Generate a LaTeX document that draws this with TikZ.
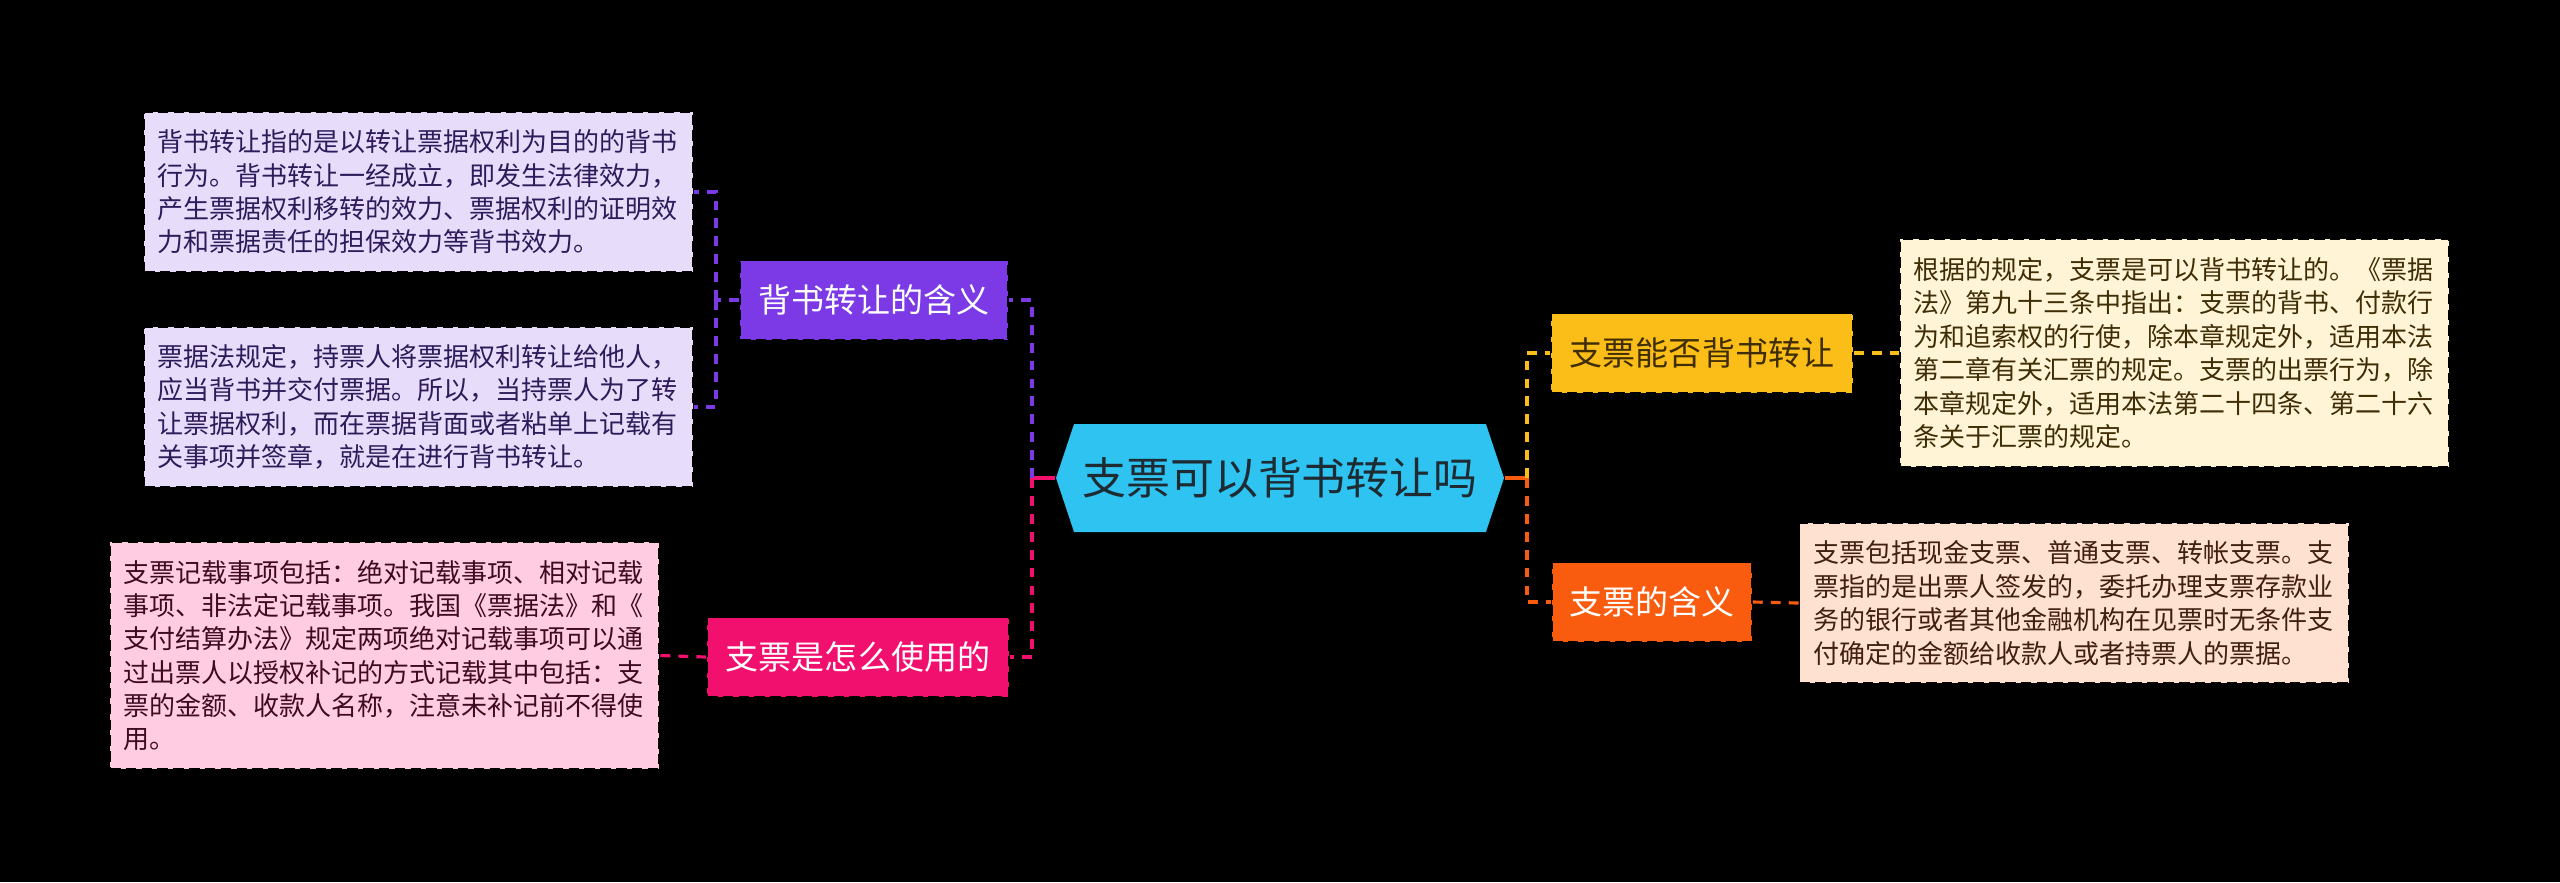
\documentclass[tikz,border=0pt]{standalone}
\usepackage{fontspec}
\setmainfont{Noto Sans CJK SC}
\usetikzlibrary{shapes.symbols}
\definecolor{mRoot}{HTML}{2EC3F1}
\definecolor{mRootTxt}{HTML}{1E2B33}
\definecolor{mViolet}{HTML}{7B3AE6}
\definecolor{mVioletL}{HTML}{E7DCFA}
\definecolor{mVioletT}{HTML}{2D1B5A}
\definecolor{mPink}{HTML}{F2106F}
\definecolor{mPinkL}{HTML}{FFCCE1}
\definecolor{mPinkT}{HTML}{3D0A22}
\definecolor{mAmber}{HTML}{FBBD17}
\definecolor{mAmberL}{HTML}{FFF4D5}
\definecolor{mAmberT}{HTML}{3F2D06}
\definecolor{mOrange}{HTML}{F95B0F}
\definecolor{mOrangeL}{HTML}{FFE1D2}
\definecolor{mOrangeT}{HTML}{40200F}

\begin{document}
\begin{tikzpicture}[
  branch/.style={draw=black, dash pattern=on 3pt off 1.5pt, line width=0.5pt,
    minimum height=0.79cm, inner sep=0pt, font=\fontsize{9.4}{11}\selectfont},
  leaf/.style={draw=black, dash pattern=on 3pt off 1.5pt, line width=0.5pt,
    text width=5.22cm, align=left, inner xsep=0.135cm, inner ysep=0pt,
    font=\fontsize{7.4}{9.5}\selectfont},
  link/.style={dash pattern=on 2.8pt off 2.3pt, line width=0.9pt}]
  \useasboundingbox (0,0) rectangle (25.6,-8.82);
  \fill[black] (0,0) rectangle (25.6,-8.82);

  % centre
  \node[signal, signal to=west and east, signal pointer angle=143, fill=mRoot,
    text=mRootTxt, minimum width=4.48cm, minimum height=1.08cm, inner sep=0pt,
    font=\fontsize{12.5}{14}\selectfont] (root) at (12.80,-4.78) {支票可以背书转让吗};

  % branches
  \node[branch, fill=mViolet, text=white, minimum width=2.68cm] (mean) at (8.74,-3.00) {背书转让的含义};
  \node[branch, fill=mPink, text=white, minimum width=3.02cm] (use) at (8.58,-6.57) {支票是怎么使用的};
  \node[branch, fill=mAmber, text=mAmberT, minimum width=3.02cm] (can) at (17.02,-3.53) {支票能否背书转让};
  \node[branch, fill=mOrange, text=white, minimum width=2.00cm] (cheque) at (16.52,-6.02) {支票的含义};

  % leaves
  \node[leaf, fill=mVioletL, text=mVioletT, minimum height=1.60cm] (meanA) at (4.185,-1.92)
    {背书转让指的是以转让票据权利为目的的背书\\行为。背书转让一经成立，即发生法律效力，\\产生票据权利移转的效力、票据权利的证明效\\力和票据责任的担保效力等背书效力。};
  \node[leaf, fill=mVioletL, text=mVioletT, minimum height=1.60cm] (meanB) at (4.185,-4.07)
    {票据法规定，持票人将票据权利转让给他人，\\应当背书并交付票据。所以，当持票人为了转\\让票据权利，而在票据背面或者粘单上记载有\\关事项并签章，就是在进行背书转让。};
  \node[leaf, fill=mPinkL, text=mPinkT, minimum height=2.27cm] (useA) at (3.845,-6.555)
    {支票记载事项包括：绝对记载事项、相对记载\\事项、非法定记载事项。我国《票据法》和《\\支付结算办法》规定两项绝对记载事项可以通\\过出票人以授权补记的方式记载其中包括：支\\票的金额、收款人名称，注意未补记前不得使\\用。};
  \node[leaf, fill=mAmberL, text=mAmberT, minimum height=2.28cm] (canA) at (21.745,-3.53)
    {根据的规定，支票是可以背书转让的。《票据\\法》第九十三条中指出：支票的背书、付款行\\为和追索权的行使，除本章规定外，适用本法\\第二章有关汇票的规定。支票的出票行为，除\\本章规定外，适用本法第二十四条、第二十六\\条关于汇票的规定。};
  \node[leaf, fill=mOrangeL, text=mOrangeT, minimum height=1.60cm] (chequeA) at (20.74,-6.03)
    {支票包括现金支票、普通支票、转帐支票。支\\票指的是出票人签发的，委托办理支票存款业\\务的银行或者其他金融机构在见票时无条件支\\付确定的金额给收款人或者持票人的票据。};

  % connectors
  \coordinate (jL) at (10.32,-4.78);
  \coordinate (jR) at (15.27,-4.78);
  \coordinate (jM) at (7.16,-3.00);
  \draw[mPink, line width=1.2pt] (root.west) -- (jL);
  \draw[mOrange, line width=1.2pt] (root.east) -- (jR);
  \draw[link, mViolet] (jL) |- (mean.east);
  \draw[link, mPink] (jL) |- (use.east);
  \draw[link, mAmber] (jR) |- (can.west);
  \draw[link, mOrange] (jR) |- (cheque.west);
  \draw[link, mViolet] (mean.west) -- (jM);
  \draw[link, mViolet] (jM) |- (meanA.east);
  \draw[link, mViolet] (jM) |- (meanB.east);
  \draw[link, mPink] (use.west) -- (useA.east);
  \draw[link, mAmber] (can.east) -- (canA.west);
  \draw[link, mOrange] (cheque.east) -- (chequeA.west);
\end{tikzpicture}
\end{document}
